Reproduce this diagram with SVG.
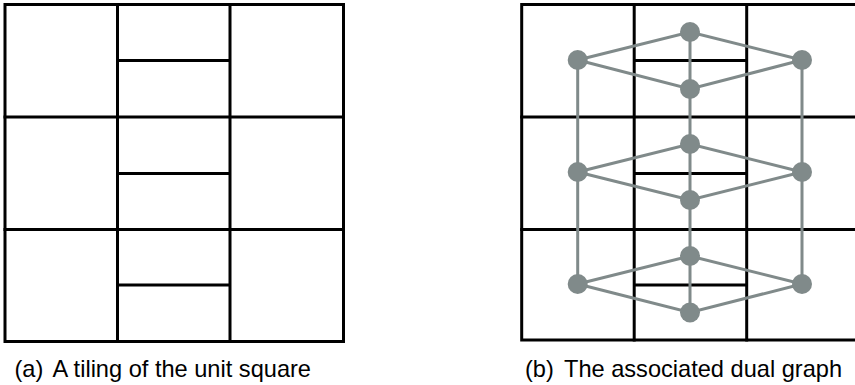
<svg xmlns="http://www.w3.org/2000/svg" width="855" height="385" viewBox="0 0 855 385">
<style>
.t{fill:none;stroke:#000;stroke-width:3;stroke-linecap:square}
.e{fill:none;stroke:#808a8a;stroke-width:3}
.n{fill:#808a8a}
.c{font-family:"Liberation Sans",Arial,sans-serif;font-size:23.6px;fill:#000}
</style>
<rect width="855" height="385" fill="#fff"/>
<g id="tilingA">
<rect class="t" x="5" y="4.5" width="338.5" height="337"/>
<path class="t" d="M117.5 4.5V341.5M230 4.5V341.5M5 117H343.5M5 229.5H343.5M117.5 60.5H230M117.5 173.5H230M117.5 285H230"/>
</g>
<g id="tilingB">
<rect class="t" x="521.7" y="4.5" width="337.5" height="335.5"/>
<path class="t" d="M634.2 4.5V340M746.7 4.5V340M521.7 117H859M521.7 229.5H859M634.2 60.5H746.7M634.2 173.5H746.7M634.2 285H746.7"/>
</g>
<g id="edges" class="e">
<path d="M577.7 60L690 32L802 60L690 89ZM690 32V89"/>
<path d="M577.7 172L690 144L802 172L690 200ZM690 144V200"/>
<path d="M577.7 284L690 256L802 284L690 312.5ZM690 256V312.5"/>
<path d="M577.7 60V284M802 60V284M690 89V144M690 200V256"/>
</g>
<g id="nodes" class="n">
<circle id="n1" cx="577.7" cy="60" r="10"/>
<circle id="n2" cx="690" cy="32" r="10"/>
<circle id="n3" cx="690" cy="89" r="10"/>
<circle id="n4" cx="802" cy="60" r="10"/>
<circle id="n5" cx="577.7" cy="172" r="10"/>
<circle id="n6" cx="690" cy="144" r="10"/>
<circle id="n7" cx="690" cy="200" r="10"/>
<circle id="n8" cx="802" cy="172" r="10"/>
<circle id="n9" cx="577.7" cy="284" r="10"/>
<circle id="n10" cx="690" cy="256" r="10"/>
<circle id="n11" cx="690" cy="312.5" r="10"/>
<circle id="n12" cx="802" cy="284" r="10"/>
</g>
<text class="c" x="14.5" y="377">(a)<tspan dx="4"> A tiling of the unit square</tspan></text>
<text class="c" x="525" y="377">(b)<tspan dx="4"> The associated dual graph</tspan></text>
</svg>
